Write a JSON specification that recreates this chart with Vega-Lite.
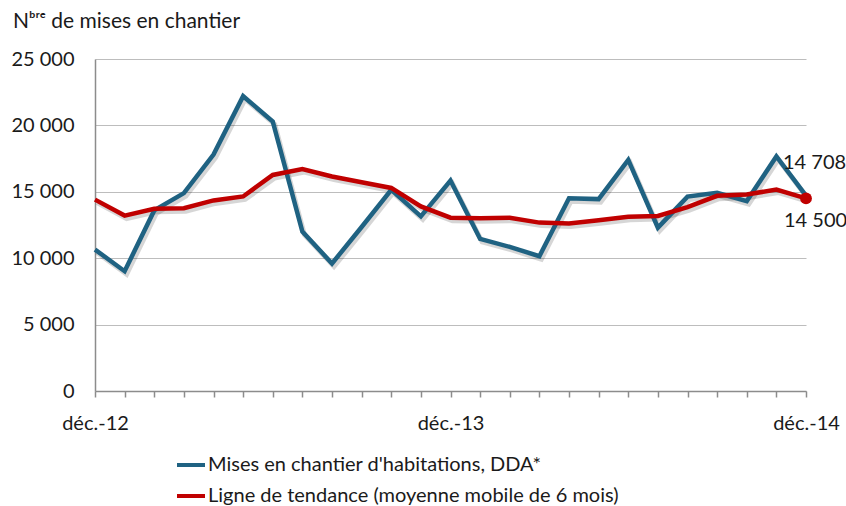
{
  "$schema": "https://vega.github.io/schema/vega-lite/v6.json",
  "width": 711,
  "height": 332,
  "autosize": "none",
  "padding": {"left": 95, "top": 59, "right": 40, "bottom": 115},
  "background": "white",
  "config": {
    "font": "Lato",
    "view": {"stroke": null},
    "locale": {"number": {"decimal": ",", "thousands": " ", "grouping": [3], "currency": ["", " €"]}}
  },
  "title": {
    "text": "Nᵇʳᵉ de mises en chantier",
    "anchor": "start",
    "frame": "group",
    "dx": -82,
    "offset": 0,
    "baseline": "alphabetic",
    "fontSize": 21,
    "fontWeight": "normal",
    "color": "#1a1a1a"
  },
  "data": {
    "values": [
      {"mois": "déc.-12", "dda": 10650, "tendance": 14410},
      {"mois": "janv.-13", "dda": 9020, "tendance": 13210},
      {"mois": "févr.-13", "dda": 13600, "tendance": 13720},
      {"mois": "mars-13", "dda": 14900, "tendance": 13760},
      {"mois": "avr.-13", "dda": 17800, "tendance": 14350},
      {"mois": "mai-13", "dda": 22200, "tendance": 14650},
      {"mois": "juin-13", "dda": 20300, "tendance": 16270},
      {"mois": "juil.-13", "dda": 12000, "tendance": 16720},
      {"mois": "août-13", "dda": 9600, "tendance": 16150},
      {"mois": "sept.-13", "dda": 12350, "tendance": 15720},
      {"mois": "oct.-13", "dda": 15150, "tendance": 15290},
      {"mois": "nov.-13", "dda": 13150, "tendance": 13900},
      {"mois": "déc.-13", "dda": 15850, "tendance": 13050},
      {"mois": "janv.-14", "dda": 11450, "tendance": 13000},
      {"mois": "févr.-14", "dda": 10850, "tendance": 13050},
      {"mois": "mars-14", "dda": 10150, "tendance": 12680},
      {"mois": "avr.-14", "dda": 14520, "tendance": 12610},
      {"mois": "mai-14", "dda": 14450, "tendance": 12850},
      {"mois": "juin-14", "dda": 17400, "tendance": 13120},
      {"mois": "juil.-14", "dda": 12300, "tendance": 13180},
      {"mois": "août-14", "dda": 14640, "tendance": 13850},
      {"mois": "sept.-14", "dda": 14920, "tendance": 14700},
      {"mois": "oct.-14", "dda": 14300, "tendance": 14800},
      {"mois": "nov.-14", "dda": 17660, "tendance": 15170},
      {"mois": "déc.-14", "dda": 14708, "tendance": 14500}
    ]
  },
  "encoding": {
    "x": {
      "field": "mois",
      "type": "ordinal",
      "sort": null,
      "scale": {"type": "point", "padding": 0},
      "axis": {
        "title": null,
        "labelAngle": 0,
        "labelFontSize": 20,
        "labelColor": "#1a1a1a",
        "labelPadding": 16,
        "labelExpr": "indexof(datum.value, 'déc') == 0 ? datum.value : ''",
        "tickSize": 6,
        "tickColor": "#8c8c8c",
        "tickWidth": 1.5,
        "domainColor": "#8c8c8c",
        "domainWidth": 1.5,
        "grid": false
      }
    }
  },
  "layer": [
    {
      "transform": [{"fold": ["dda", "tendance"], "as": ["serie", "valeur"]}],
      "mark": {"type": "line", "color": "#000000", "opacity": 0.16, "strokeWidth": 5, "xOffset": 2, "yOffset": 3},
      "encoding": {
        "y": {"field": "valeur", "type": "quantitative", "scale": {"domain": [0, 25000], "nice": false}},
        "detail": {"field": "serie"}
      }
    },
    {
      "transform": [{"fold": ["dda", "tendance"], "as": ["serie", "valeur"]}],
      "mark": {"type": "line", "strokeWidth": 4.5, "strokeJoin": "miter"},
      "encoding": {
        "y": {
          "field": "valeur",
          "type": "quantitative",
          "scale": {"domain": [0, 25000], "nice": false},
          "axis": {
            "title": null,
            "values": [0, 5000, 10000, 15000, 20000, 25000],
            "format": ",d",
            "ticks": false,
            "labelPadding": 21,
            "labelFontSize": 20,
            "labelColor": "#1a1a1a",
            "gridColor": "#bdbdbd",
            "gridWidth": 1.2,
            "domainColor": "#8c8c8c",
            "domainWidth": 1.5
          }
        },
        "color": {
          "field": "serie",
          "type": "nominal",
          "scale": {"domain": ["dda", "tendance"], "range": ["#1f6282", "#c00000"]},
          "legend": {
            "orient": "none",
            "legendX": 80,
            "legendY": 390,
            "title": null,
            "symbolType": "stroke",
            "symbolSize": 784,
            "symbolStrokeWidth": 4,
            "labelFontSize": 20,
            "labelColor": "#1a1a1a",
            "labelOffset": 1,
            "rowPadding": 5,
            "labelLimit": 700,
            "labelExpr": "datum.value == 'dda' ? \"Mises en chantier d'habitations, DDA*\" : 'Ligne de tendance (moyenne mobile de 6 mois)'"
          }
        }
      }
    },
    {
      "transform": [{"filter": "datum.mois == 'déc.-14'"}],
      "mark": {"type": "circle", "size": 140, "color": "#c00000", "opacity": 1},
      "encoding": {"y": {"field": "tendance", "type": "quantitative", "scale": {"domain": [0, 25000], "nice": false}}}
    },
    {
      "transform": [{"filter": "datum.mois == 'déc.-14'"}],
      "mark": {"type": "text", "align": "left", "baseline": "middle", "dx": -23, "dy": -33, "fontSize": 20, "color": "#1a1a1a"},
      "encoding": {
        "y": {"field": "dda", "type": "quantitative", "scale": {"domain": [0, 25000], "nice": false}},
        "text": {"field": "dda", "type": "quantitative", "format": ",d"}
      }
    },
    {
      "transform": [{"filter": "datum.mois == 'déc.-14'"}],
      "mark": {"type": "text", "align": "left", "baseline": "middle", "dx": -22, "dy": 23, "fontSize": 20, "color": "#1a1a1a"},
      "encoding": {
        "y": {"field": "tendance", "type": "quantitative", "scale": {"domain": [0, 25000], "nice": false}},
        "text": {"field": "tendance", "type": "quantitative", "format": ",d"}
      }
    }
  ]
}
